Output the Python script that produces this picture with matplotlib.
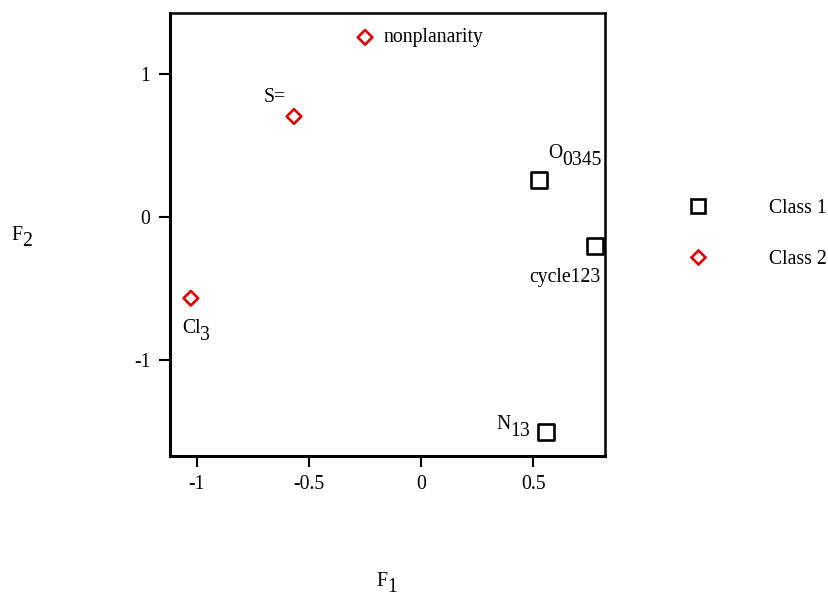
import matplotlib
matplotlib.use("Agg")
import matplotlib.pyplot as plt
from matplotlib.lines import Line2D
from matplotlib.font_manager import FontProperties

plt.rcParams['font.family'] = ['Liberation Serif', 'DejaVu Serif']

FS = 14.2

# Data
class1_main = ['O', 'cycle123', 'N']
class1_sub = ['0345', '', '13']
class1_x = [0.527, 0.777, 0.558]
class1_y = [0.259, -0.203, -1.503]

class2_main = ['nonplanarity', 'S=', 'Cl']
class2_sub = ['', '', '3']
class2_x = [-0.25, -0.567, -1.027]
class2_y = [1.26, 0.706, -0.566]

xticks = [-1, -0.5, 0, 0.5]
yticks = [-1, 0, 1]

fig = plt.figure(figsize=(8.29, 5.98), dpi=100)
ax = fig.add_axes([170/829, 1-456/598, 435/829, 443/598])

ax.scatter(class1_x, class1_y, marker='s', s=130, facecolors='none',
           edgecolors='black', linewidths=1.9, zorder=3)
ax.scatter(class2_x, class2_y, marker='D', s=55, facecolors='none',
           edgecolors='#dd0000', linewidths=1.9, zorder=3)

renderer = fig.canvas.get_renderer()
fp = FontProperties(family='Liberation Serif', size=FS)

def text_width(s):
    w, h, d = renderer.get_text_width_height_descent(s, fp, ismath=False)
    return w

def label(x, y, main, sub, dx, dy):
    """dx: left edge offset (px), dy: vertical centre offset (px, up positive)."""
    ax.annotate(main, (x, y), xytext=(dx, dy), textcoords='offset pixels',
                ha='left', va='center', fontsize=FS)
    if sub:
        w = text_width(main)
        ax.annotate(sub, (x, y), xytext=(dx + w, dy - 7), textcoords='offset pixels',
                    ha='left', va='center', fontsize=FS)

# label offsets in pixels
offs1 = [(9, 27), (-66, -31), (-50, 8)]
offs2 = [(19, 0), (-30, 19), (-9, -30)]
for m, s, x, y, (dx, dy) in zip(class1_main, class1_sub, class1_x, class1_y, offs1):
    label(x, y, m, s, dx, dy)
for m, s, x, y, (dx, dy) in zip(class2_main, class2_sub, class2_x, class2_y, offs2):
    label(x, y, m, s, dx, dy)

ax.set_xlim(-1.12, 0.82)
ax.set_ylim(-1.67, 1.43)
ax.set_xticks(xticks)
ax.set_xticklabels(['-1', '-0.5', '0', '0.5'])
ax.set_yticks(yticks)
ax.set_yticklabels(['-1', '0', '1'])
ax.tick_params(direction='out', length=8, width=1.5, labelsize=FS, pad=6)

for s in ['left', 'bottom']:
    ax.spines[s].set_linewidth(2.2)
for s in ['top', 'right']:
    ax.spines[s].set_linewidth(1.8)

def fig_label(px, py, main, sub):
    fig.text(px/829, 1-py/598, main, fontsize=FS, ha='left', va='center')
    w = text_width(main)
    fig.text((px + w)/829, 1-(py + 7)/598, sub, fontsize=FS, ha='left', va='center')

fig_label(376, 581, 'F', '1')
fig_label(11, 235, 'F', '2')

handles = [
    Line2D([], [], marker='s', linestyle='none', markersize=10.5, markerfacecolor='none',
           markeredgecolor='black', markeredgewidth=1.9),
    Line2D([], [], marker='D', linestyle='none', markersize=7, markerfacecolor='none',
           markeredgecolor='#dd0000', markeredgewidth=1.9),
]
fig.legend(handles, ['Class 1', 'Class 2'], loc='upper left',
           bbox_to_anchor=(678/829, 1-199/598), frameon=False, fontsize=FS,
           handlelength=2.0, handletextpad=2.6, labelspacing=1.6,
           borderaxespad=0, borderpad=0)

fig.savefig('out.png', dpi=100)
